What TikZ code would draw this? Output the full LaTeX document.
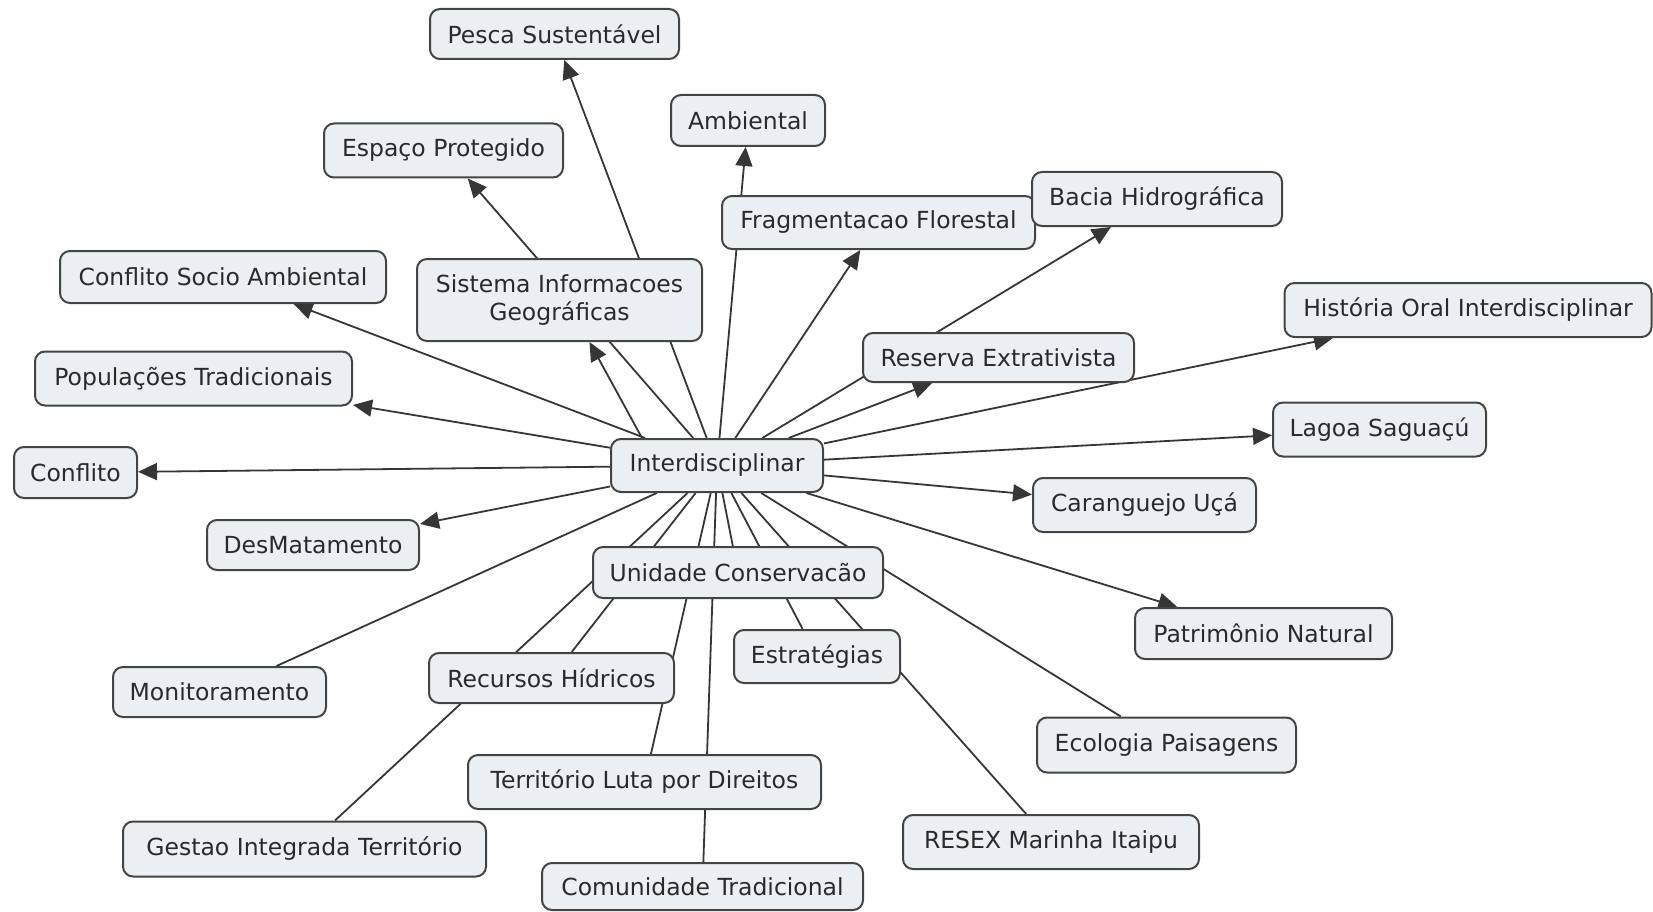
\documentclass[tikz,border=0pt]{standalone}
\usepackage{fontspec}
\setmainfont{DejaVu Sans}
\usetikzlibrary{arrows.meta,backgrounds}
\definecolor{boxfill}{HTML}{E9EFF2}
\definecolor{boxline}{HTML}{444444}
\definecolor{ink}{HTML}{2A2A2A}
\definecolor{wire}{HTML}{363636}

\begin{document}
\begin{tikzpicture}[x=1pt,y=-1pt,
  concept/.style={draw=boxline, line width=2pt, fill=boxfill, rounded corners=10pt,
    text=ink, font=\fontsize{23.5}{28}\selectfont, minimum height=52pt,
    inner sep=0pt, align=center},
  link/.style={draw=wire, line width=1.8pt},
  tip/.style={link, -{Triangle[length=19pt,width=17pt]}}
]
\useasboundingbox (0,0) rectangle (1653,912);

% concepts
\node[concept, minimum width=249pt, minimum height=50pt] (pesca)    at (554.5,34)   {Pesca Sustentável};
\node[concept, minimum width=154pt, minimum height=51pt] (ambiental) at (748,120.5) {Ambiental};
\node[concept, minimum width=239pt, minimum height=54pt] (espaco)   at (443.5,150.5) {Espaço Protegido};
\node[concept, minimum width=313pt, minimum height=53pt] (frag)     at (878.5,222.5) {Fragmentacao Florestal};
\node[concept, minimum width=250pt, minimum height=54pt] (bacia)    at (1157,199)    {Bacia Hidrográfica};
\node[concept, minimum width=326pt] (csa)      at (223,277)     {Conflito Socio Ambiental};
\node[concept, minimum width=285pt, minimum height=82pt] (sig) at (559.5,300) {Sistema Informacoes\\Geográficas};
\node[concept, minimum width=367pt, minimum height=54pt] (historia) at (1468,310)  {História Oral Interdisciplinar};
\node[concept, minimum width=271pt, minimum height=49pt] (reserva)  at (998.5,357.5) {Reserva Extrativista};
\node[concept, minimum width=317pt, minimum height=54pt] (popul)    at (193.5,378.5) {Populações Tradicionais};
\node[concept, minimum width=213pt, minimum height=54pt] (lagoa)    at (1379.5,429.5) {Lagoa Saguaçú};
\node[concept, minimum width=123pt, minimum height=51pt] (conflito) at (75.5,472.5)  {Conflito};
\node[concept, minimum width=212pt, minimum height=53pt] (inter)    at (717,465.5)   {Interdisciplinar};
\node[concept, minimum width=223pt, minimum height=54pt] (carang)   at (1144.5,505)  {Caranguejo Uçá};
\node[concept, minimum width=212pt, minimum height=50pt] (desmat)   at (313,545)     {DesMatamento};
\node[concept, minimum width=290pt, minimum height=51pt] (unidade)  at (738,572.5)   {Unidade Conservacão};
\node[concept, minimum width=257pt, minimum height=51pt] (patrim)   at (1263.5,633.5) {Patrimônio Natural};
\node[concept, minimum width=166pt, minimum height=53pt] (estrat)   at (817,656.5)   {Estratégias};
\node[concept, minimum width=213pt, minimum height=50pt] (monitor)  at (219.5,692)   {Monitoramento};
\node[concept, minimum width=245pt, minimum height=50pt] (recursos) at (551.5,678)   {Recursos Hídricos};
\node[concept, minimum width=259pt, minimum height=55pt] (ecologia) at (1166.5,745)  {Ecologia Paisagens};
\node[concept, minimum width=353pt, minimum height=54pt] (territorio) at (644.5,782) {Território Luta por Direitos};
\node[concept, minimum width=296pt, minimum height=54pt] (resex)    at (1051,842)    {RESEX Marinha Itaipu};
\node[concept, minimum width=363pt, minimum height=55pt] (gestao)   at (304.5,849)   {Gestao Integrada Território};
\node[concept, minimum width=321pt, minimum height=47pt] (comunidade) at (702.5,886.5) {Comunidade Tradicional};

% connectors run behind the concept boxes
\begin{pgfonlayer}{background}
  \foreach \t in {pesca,espaco,ambiental,frag,bacia,csa,popul,conflito,desmat,
                  reserva,historia,lagoa,carang,patrim}
    \draw[tip] (inter) -- (\t);
  \draw[tip] ([xshift=32pt]inter.north west) -- ([xshift=30pt]sig.south);
  \foreach \t in {monitor,gestao,recursos,territorio,comunidade,unidade,estrat,resex,ecologia}
    \draw[link] (inter) -- (\t);
\end{pgfonlayer}
\end{tikzpicture}
\end{document}
